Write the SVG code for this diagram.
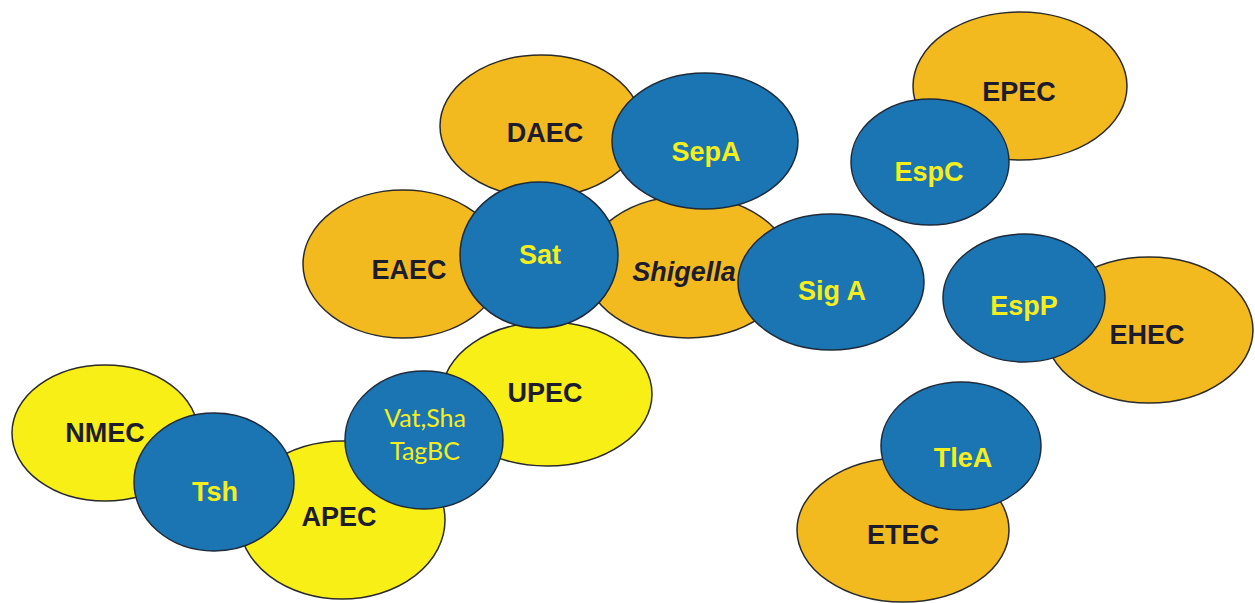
<svg xmlns="http://www.w3.org/2000/svg" width="1255" height="603" viewBox="0 0 1255 603">
<style>
.o{fill:#F3BA1F;stroke:#2a2a2a;stroke-width:1.5}
.y{fill:#F8EF16;stroke:#2a2a2a;stroke-width:1.5}
.b{fill:#1B75B3;stroke:#1f2a3a;stroke-width:1.5}
.d{font-family:"Liberation Sans",Arial,sans-serif;font-weight:bold;font-size:27px;fill:#1c1c2c;text-anchor:middle;dominant-baseline:central}
.t{font-family:"Liberation Sans",Arial,sans-serif;font-weight:bold;font-size:27px;fill:#F5EE1C;text-anchor:middle;dominant-baseline:central}
.c{font-family:Lato,"Open Sans",sans-serif;font-size:25px;fill:#F5EE1C;text-anchor:middle;dominant-baseline:central}
</style>
<rect width="1255" height="603" fill="#ffffff"/>
<g id="UPEC"><ellipse class="y" cx="547" cy="394" rx="105" ry="72"/><text class="d" x="545" y="393">UPEC</text></g>
<g id="DAEC"><ellipse class="o" cx="541" cy="126" rx="101" ry="71"/><text class="d" x="545" y="133">DAEC</text></g>
<g id="EAEC"><ellipse class="o" cx="403" cy="264" rx="100" ry="74"/><text class="d" x="409" y="270">EAEC</text></g>
<g id="Shigella"><ellipse class="o" cx="688" cy="267" rx="103" ry="71"/><text class="d" x="684" y="272" font-style="italic">Shigella</text></g>
<g id="SepA"><ellipse class="b" cx="705" cy="141" rx="93" ry="68"/><text class="t" x="706" y="152">SepA</text></g>
<g id="Sat"><ellipse class="b" cx="539" cy="255" rx="79" ry="73"/><text class="t" x="540" y="255">Sat</text></g>
<g id="SigA"><ellipse class="b" cx="831" cy="282" rx="93" ry="68"/><text class="t" x="832" y="291">Sig A</text></g>
<g id="EPEC"><ellipse class="o" cx="1020" cy="86" rx="107" ry="74"/><text class="d" x="1019" y="92">EPEC</text></g>
<g id="EspC"><ellipse class="b" cx="930" cy="162" rx="79" ry="63"/><text class="t" x="929" y="172">EspC</text></g>
<g id="EHEC"><ellipse class="o" cx="1149" cy="330" rx="104" ry="73"/><text class="d" x="1147" y="335">EHEC</text></g>
<g id="EspP"><ellipse class="b" cx="1024" cy="298" rx="81" ry="64"/><text class="t" x="1024" y="306">EspP</text></g>
<g id="ETEC"><ellipse class="o" cx="903" cy="530" rx="106" ry="72"/><text class="d" x="903" y="535">ETEC</text></g>
<g id="TleA"><ellipse class="b" cx="961" cy="446" rx="80" ry="64"/><text class="t" x="963" y="458">TleA</text></g>
<g id="NMEC"><ellipse class="y" cx="105" cy="433" rx="93" ry="68"/><text class="d" x="105" y="433">NMEC</text></g>
<g id="APEC"><ellipse class="y" cx="342" cy="520" rx="103" ry="79"/><text class="d" x="339" y="517">APEC</text></g>
<g id="Tsh"><ellipse class="b" cx="214" cy="482" rx="80" ry="69"/><text class="t" x="215" y="492">Tsh</text></g>
<g id="VatSha"><ellipse class="b" cx="424" cy="440" rx="79" ry="69"/><text class="c" x="425" y="417">Vat,Sha</text><text class="c" x="425" y="450">TagBC</text></g>
<g id="connectors"></g>
</svg>
